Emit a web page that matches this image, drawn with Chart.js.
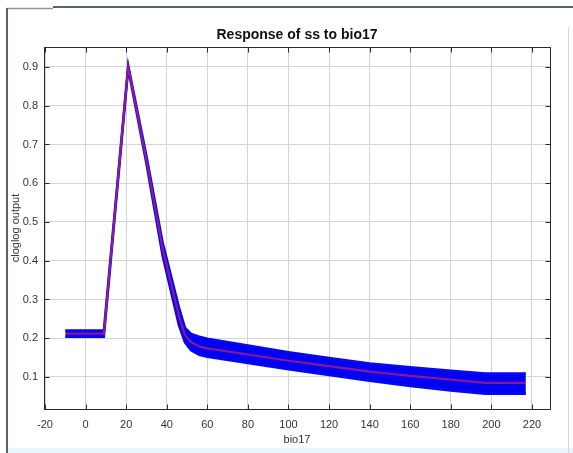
<!DOCTYPE html>
<html>
<head>
<meta charset="utf-8">
<script src="https://cdn.jsdelivr.net/npm/chart.js@4/dist/chart.umd.min.js"></script>
<style>
  html, body { margin: 0; padding: 0; background: #ffffff; }
  #wrap { width: 573px; height: 453px; position: relative; }
</style>
</head>
<body>
<div id="wrap"><canvas id="c" width="573" height="453"></canvas></div>
<script>
// bio17 sample positions along the response curve
const bio17 = [-10, 9, 21, 30, 38, 46, 49, 52, 56, 60, 80, 100, 120, 140, 160, 180, 197, 217];
// mean cloglog output
const meanOut = [0.212, 0.212, 0.900, 0.660, 0.430, 0.258, 0.208, 0.190, 0.179, 0.174, 0.158, 0.142, 0.128, 0.114, 0.103, 0.093, 0.085, 0.085];
// mean + one standard deviation
const upperOut = [0.220, 0.220, 0.904, 0.670, 0.446, 0.280, 0.227, 0.211, 0.204, 0.199, 0.181, 0.164, 0.149, 0.135, 0.125, 0.116, 0.109, 0.109];
// mean - one standard deviation
const lowerOut = [0.204, 0.204, 0.896, 0.650, 0.412, 0.234, 0.189, 0.169, 0.157, 0.152, 0.136, 0.120, 0.105, 0.090, 0.077, 0.065, 0.057, 0.057];

const xTicks = [-20, 0, 20, 40, 60, 80, 100, 120, 140, 160, 180, 200, 220];
const yTicks = [0.1, 0.2, 0.3, 0.4, 0.5, 0.6, 0.7, 0.8, 0.9];

const pts = (ys) => bio17.map((x, i) => ({ x: x, y: ys[i] }));

// window frame around the figure
const framePlugin = {
  id: 'frame',
  beforeDraw(chart) {
    const ctx = chart.ctx;
    ctx.save();
    ctx.fillStyle = '#ffffff';
    ctx.fillRect(0, 0, chart.width, chart.height);
    ctx.fillStyle = '#eaf4fb';
    ctx.fillRect(8, 448, chart.width - 8, chart.height - 448);
    ctx.strokeStyle = '#8d979f';
    ctx.lineWidth = 1.5;
    ctx.beginPath(); ctx.moveTo(7, 8.5); ctx.lineTo(53, 8.5); ctx.stroke();
    ctx.strokeStyle = '#56646f';
    ctx.lineWidth = 2;
    ctx.beginPath(); ctx.moveTo(53, 7); ctx.lineTo(chart.width, 7); ctx.stroke();
    ctx.beginPath(); ctx.moveTo(7, 8); ctx.lineTo(7, chart.height); ctx.stroke();
    ctx.strokeStyle = '#d6d9dc';
    ctx.lineWidth = 1;
    ctx.beginPath(); ctx.moveTo(568.5, 27); ctx.lineTo(568.5, chart.height); ctx.stroke();
    ctx.restore();
  },
  afterDraw(chart) {
    // plot box with inward tick marks on all four sides
    const { ctx, chartArea: a, scales } = chart;
    const L = Math.round(a.left) + 0.5, R = Math.round(a.right) + 0.5;
    const T = Math.round(a.top) + 0.5, B = Math.round(a.bottom) + 0.5;
    ctx.save();
    ctx.strokeStyle = '#2b2b2b';
    ctx.lineWidth = 1;
    ctx.strokeRect(L, T, R - L, B - T);
    const len = 5;
    ctx.beginPath();
    xTicks.forEach(v => {
      const px = Math.round(scales.x.getPixelForValue(v)) + 0.5;
      ctx.moveTo(px, B); ctx.lineTo(px, B - len);
      ctx.moveTo(px, T); ctx.lineTo(px, T + len);
    });
    yTicks.forEach(v => {
      const py = Math.round(scales.y.getPixelForValue(v)) + 0.5;
      ctx.moveTo(L, py); ctx.lineTo(L + len, py);
      ctx.moveTo(R, py); ctx.lineTo(R - len, py);
    });
    ctx.stroke();
    ctx.restore();
  }
};

new Chart(document.getElementById('c'), {
  type: 'line',
  data: {
    datasets: [
      {
        label: 'mean',
        data: pts(meanOut),
        borderColor: 'rgba(225, 35, 100, 0.62)',
        borderWidth: 2.2,
        pointRadius: 0,
        fill: false,
        tension: 0
      },
      {
        label: 'mean + SD',
        data: pts(upperOut),
        borderColor: '#0808ee',
        borderWidth: 2.5,
        pointRadius: 0,
        fill: false,
        tension: 0
      },
      {
        label: 'mean - SD',
        data: pts(lowerOut),
        borderColor: '#0808ee',
        borderWidth: 2.5,
        backgroundColor: '#0000f2',
        pointRadius: 0,
        fill: '-1',
        tension: 0
      }
    ]
  },
  options: {
    responsive: false,
    animation: false,
    events: [],
    layout: { padding: { top: 27, right: 23, left: 0, bottom: 0 } },
    plugins: {
      legend: { display: false },
      tooltip: { enabled: false },
      title: {
        display: true,
        fullSize: false,
        text: 'Response of ss to bio17',
        color: '#111111',
        font: { family: 'Liberation Sans, Arial, sans-serif', size: 14, weight: 'bold', lineHeight: 1.2 },
        padding: { top: 0, bottom: 3.2 }
      }
    },
    scales: {
      x: {
        type: 'linear',
        min: -20.5,
        max: 228.9,
        afterFit(s) { s.height = 44; },
        afterBuildTicks(s) { s.ticks = xTicks.map(v => ({ value: v })); },
        grid: { color: '#d4d4d4', lineWidth: 1, drawTicks: false },
        border: { display: false },
        ticks: {
          padding: 9,
          color: '#333333',
          font: { family: 'Liberation Sans, Arial, sans-serif', size: 11 },
          maxRotation: 0,
          callback: v => String(v)
        },
        title: {
          display: true,
          text: 'bio17',
          color: '#333333',
          font: { family: 'Liberation Sans, Arial, sans-serif', size: 11, lineHeight: 1.2 },
          padding: { top: 0, bottom: 6.4 }
        }
      },
      y: {
        type: 'linear',
        min: 0.0174,
        max: 0.9516,
        afterFit(s) { s.width = 44; },
        afterBuildTicks(s) { s.ticks = yTicks.map(v => ({ value: v })); },
        grid: { color: '#d4d4d4', lineWidth: 1, drawTicks: false },
        border: { display: false },
        ticks: {
          padding: 6,
          color: '#333333',
          font: { family: 'Liberation Sans, Arial, sans-serif', size: 11 },
          callback: v => v.toFixed(1)
        },
        title: {
          display: true,
          text: 'cloglog output',
          color: '#333333',
          font: { family: 'Liberation Sans, Arial, sans-serif', size: 11, lineHeight: 1.2 },
          padding: { top: 9.4, bottom: 0 }
        }
      }
    }
  },
  plugins: [framePlugin]
});
</script>
</body>
</html>
